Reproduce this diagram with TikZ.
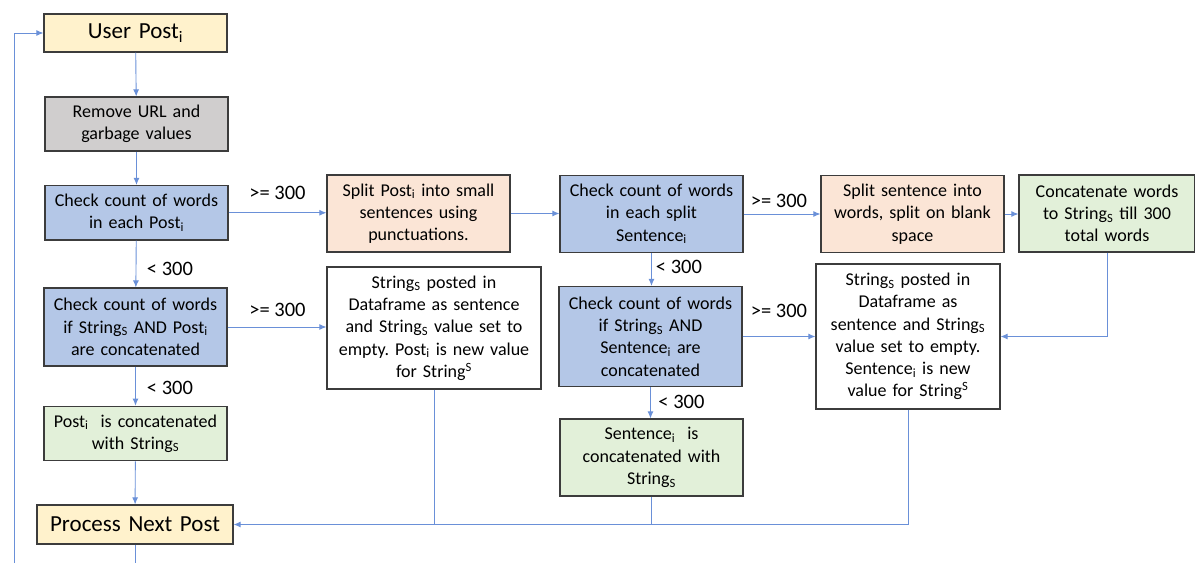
\documentclass[tikz,border=0pt]{standalone}
\usepackage{fontspec}
\setmainfont{Carlito}
\frenchspacing
\usetikzlibrary{arrows.meta,calc}
\definecolor{cyel}{HTML}{FFF2CC}
\definecolor{cgray}{HTML}{D0CECE}
\definecolor{cblue}{HTML}{B4C7E7}
\definecolor{cpeach}{HTML}{FBE5D6}
\definecolor{cgreen}{HTML}{E2F0D9}
\definecolor{cline}{HTML}{6A90D8}
\definecolor{cborder}{HTML}{3C3C3C}
\tikzset{
  box/.style={draw=cborder, line width=1.2pt, align=center, inner sep=0pt,
    font=\fontsize{18}{22.3}\selectfont},
  bigbox/.style={box, font=\fontsize{23}{26}\selectfont},
  conn/.style={draw=cline, line width=0.9pt},
  arr/.style={conn, -{Latex[length=7pt,width=6pt]}},
  lbl/.style={font=\fontsize{20.5}{24}\selectfont, inner sep=0pt},
}
\newcommand{\sub}[1]{\textsubscript{#1}}
\newcommand{\sups}[1]{\textsuperscript{#1}}
\begin{document}
\begin{tikzpicture}[x=1pt,y=-1pt]
\useasboundingbox (0,0) rectangle (1195,563);
% nodes
\node[bigbox, fill=cyel, text width=183pt, minimum height=38pt] (up) at (135.5,33) {User Post\sub{i}};
\node[box, fill=cgray, text width=183pt, minimum height=54pt] (rm) at (136.5,124) {Remove URL and\\garbage values};
\node[box, fill=cblue, text width=183pt, minimum height=54.5pt] (c1) at (136.5,212.75) {Check count of words\\in each Post\sub{i}};
\node[box, fill=cblue, text width=183pt, minimum height=78pt] (c2) at (135.5,327) {Check count of words\\if String\sub{S} AND Post\sub{i}\\are concatenated};
\node[box, fill=cgreen, text width=183pt, minimum height=54.5pt] (pc) at (135.5,433.5) {Post\sub{i}\ \ is concatenated\\with String\sub{S}};
\node[bigbox, fill=cyel, text width=196pt, minimum height=39pt] (pnp) at (135,524.5) {Process Next Post};
\node[box, fill=cpeach, text width=183pt, minimum height=77pt] (sp) at (418.5,213.5) {Split Post\sub{i} into small\\sentences using\\punctuations.};
\node[box, fill=white, text width=214pt, minimum height=122pt] (w1) at (434,328) {String\sub{S} posted in\\Dataframe as sentence\\and String\sub{S} value set to\\empty. Post\sub{i} is new value\\for String\sups{S}};
\node[box, fill=cblue, text width=183pt, minimum height=77pt] (cs) at (651.5,214) {Check count of words\\in each split\\Sentence\sub{i}};
\node[box, fill=cblue, text width=183pt, minimum height=100pt] (cc) at (650.5,336.5) {Check count of words\\if String\sub{S} AND\\Sentence\sub{i} are\\concatenated};
\node[box, fill=cgreen, text width=183pt, minimum height=77pt] (sc) at (651.5,457.5) {Sentence\sub{i}\ \ is\\concatenated with\\String\sub{S}};
\node[box, fill=cpeach, text width=183pt, minimum height=77pt] (ss) at (912.5,214) {Split sentence into\\words, split on blank\\space};
\node[box, fill=cgreen, text width=176pt, minimum height=77pt] (cw) at (1107,213.5) {Concatenate words\\to String\sub{S} till 300\\total words};
\node[box, fill=white, text width=184pt, minimum height=145pt] (w2) at (908,336.5) {String\sub{S} posted in\\Dataframe as\\sentence and String\sub{S}\\value set to empty.\\Sentence\sub{i} is new\\value for String\sups{S}};
% coordinates for loop (cropped at bottom)
\coordinate (loopbot) at (14,563);
\coordinate (pnpbot) at (135,563);
% connectors
\draw[arr] (up) -- (rm);
\draw[arr] (rm) -- (c1);
\draw[arr] (c1) -- (c2);
\draw[arr] (c2) -- (pc);
\draw[arr] (pc) -- (pnp);
\draw[arr] (c1.east) -- (c1.east -| sp.west);
\draw[arr] (c2.east) -- (c2.east -| w1.west);
\draw[arr] (sp.east) -- (sp.east -| cs.west);
\draw[arr] (cs.east) -- (ss.west);
\draw[arr] (cs.south) -- (cs.south |- cc.north);
\draw[arr] (cc.east) -- (w2.west);
\draw[arr] (cc.south) -- (cc.south |- sc.north);
\draw[arr] (ss.east) -- (ss.east -| cw.west);
\draw[arr] (cw.south) |- (w2.east);
\draw[conn] (w1.south) -- (w1.south |- pnp.east);
\draw[conn] (sc.south) -- (sc.south |- pnp.east);
\draw[arr] (w2.south) |- (pnp.east);
\draw[conn] (pnp.south) -- (pnpbot);
\draw[arr] (loopbot) |- (up.west);
% labels
\node[lbl] (l1) at (277.5,193) {>= 300};
\node[lbl] (l2) at (170,269) {< 300};
\node[lbl] (l3) at (277.5,310) {>= 300};
\node[lbl] (l4) at (170,388) {< 300};
\node[lbl] (l5) at (779,201) {>= 300};
\node[lbl] (l6) at (679,267) {< 300};
\node[lbl] (l7) at (779,311) {>= 300};
\node[lbl] (l8) at (681.5,401.5) {< 300};
\end{tikzpicture}
\end{document}
